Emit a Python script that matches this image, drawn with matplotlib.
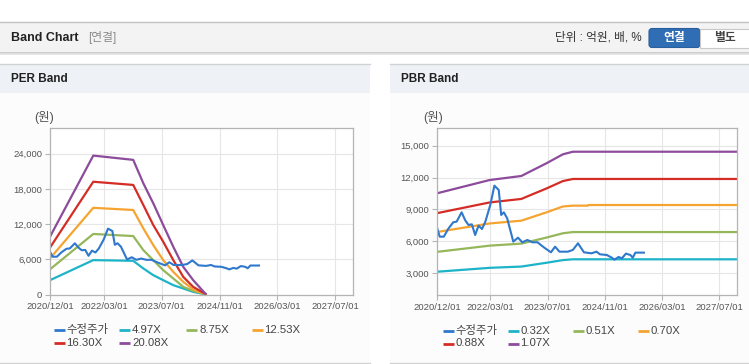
import matplotlib
matplotlib.use("Agg")
import matplotlib.dates as mdates
import matplotlib.pyplot as plt
import numpy as np
import pandas as pd
from matplotlib.patches import Rectangle, FancyBboxPatch

plt.rcParams['font.family'] = ['Liberation Sans', 'Noto Sans CJK KR', 'DejaVu Sans']

# adjusted close price (shared by both panels)
price_dates = ["2020-12-01", "2020-12-24", "2021-01-28", "2021-03-06", "2021-04-18",
               "2021-05-17", "2021-06-29", "2021-07-28", "2021-08-26", "2021-09-24",
               "2021-10-22", "2021-11-20", "2021-12-19", "2022-01-17", "2022-02-28",
               "2022-04-04", "2022-05-11", "2022-06-01", "2022-06-23", "2022-07-22",
               "2022-09-12", "2022-10-22", "2022-11-28", "2023-01-10", "2023-02-22",
               "2023-04-06", "2023-06-03", "2023-07-30", "2023-09-03", "2023-10-10",
               "2023-12-21", "2024-02-02", "2024-03-16", "2024-05-06", "2024-07-09",
               "2024-08-21", "2024-09-19", "2024-11-16", "2024-12-29", "2025-01-21",
               "2025-02-25", "2025-03-25", "2025-04-29", "2025-06-05", "2025-06-26",
               "2025-07-18", "2025-09-29"]
price = [7290, 6444, 6444, 7167, 7794, 7856, 8736, 8013, 7543, 7605,
         6600, 7480, 7167, 7856, 9423, 11240, 10830, 8483, 8736, 8170,
         5977, 6350, 5915, 6133, 5915, 5915, 5410, 4974, 5504, 5033,
         5033, 5200, 5820, 4974, 4880, 5033, 4786, 4723, 4472, 4284,
         4535, 4410, 4849, 4723, 4472, 4943, 4943]

# PER band
per_dates = ["2020-12-01", "2021-12-01", "2022-11-03", "2023-01-27", "2023-04-21",
             "2023-07-14", "2023-10-07", "2023-12-30", "2024-03-23", "2024-07-05"]
per_497 = [2440, 5865, 5745, 4446, 3300, 2445, 1590, 1026, 445, 30]
per_875 = [4296, 10325, 9970, 7575, 5865, 4155, 2735, 1300, 615, 50]
per_1253 = [6152, 14785, 14415, 11285, 8430, 5865, 3865, 2155, 855, 70]
per_1630 = [8003, 19234, 18690, 15270, 11850, 9000, 5865, 3010, 1300, 90]
per_2008 = [9860, 23694, 22965, 18980, 15560, 11850, 8140, 4720, 2445, 110]
per_labels = ["수정주가", "4.97X", "8.75X", "12.53X", "16.30X", "20.08X"]

# PBR band
pbr_dates = ["2020-12-01", "2022-02-23", "2022-11-20", "2023-01-30", "2023-06-21",
             "2023-11-09", "2024-02-02", "2024-06-10", "2024-06-15", "2027-12-01"]
pbr_032 = [3146, 3514, 3634, 3753, 3989, 4244, 4316, 4316, 4316, 4316]
pbr_051 = [5014, 5600, 5791, 5982, 6358, 6764, 6878, 6878, 6878, 6878]
pbr_070 = [6882, 7687, 7949, 8210, 8727, 9283, 9360, 9360, 9420, 9420]
pbr_088 = [8652, 9663, 9992, 10322, 10971, 11671, 11868, 11868, 11868, 11868]
pbr_107 = [10520, 11770, 12150, 12550, 13340, 14190, 14430, 14430, 14430, 14430]
pbr_labels = ["수정주가", "0.32X", "0.51X", "0.70X", "0.88X", "1.07X"]

x_ticks = ["2020-12-01", "2022-03-01", "2023-07-01", "2024-11-01", "2026-03-01", "2027-07-01"]

COLORS = ['#2f78cc', '#1db4c8', '#95b75a', '#f5a431', '#d42d26', '#8c4b9b']
W, H = 749, 364


def px_rect(left, top, width, height):
  return [left / W, 1 - (top + height) / H, width / W, height / H]


def setup_axes(ax, ylim, yticks):
  ax.set_facecolor('white')
  ax.set_xlim(pd.Timestamp("2020-12-01"), pd.Timestamp("2027-12-01"))
  ax.set_ylim(*ylim)
  ax.set_xticks(pd.to_datetime(x_ticks))
  ax.xaxis.set_major_formatter(mdates.DateFormatter('%Y/%m/%d'))
  ax.set_yticks(yticks)
  ax.set_yticklabels([f'{v:,}' for v in yticks])
  ax.grid(color='#e6e6e6', linewidth=0.8)
  ax.set_axisbelow(True)
  for sp in ax.spines.values():
    sp.set_color('#b4b4b4')
    sp.set_linewidth(0.9)
  ax.tick_params(axis='both', colors='#b4b4b4', labelcolor='#555555',
                 labelsize=6.8, length=3.5, width=0.8, pad=2)


def draw_legend(bg, labels, xs, ys):
  pos = [(xs[0], ys[0]), (xs[1], ys[0]), (xs[2], ys[0]), (xs[3], ys[0]),
         (xs[0], ys[1]), (xs[1], ys[1])]
  for (lx, ly), lab, col in zip(pos, labels, COLORS):
    bg.plot([lx, lx + 11], [ly, ly], color=col, lw=2, solid_capstyle='butt')
    bg.text(lx + 13, ly, lab, fontsize=8.2, color='#444444', va='center', ha='left')


fig = plt.figure(figsize=(W / 100, H / 100), dpi=100)
bg = fig.add_axes([0, 0, 1, 1])
bg.set_xlim(0, W)
bg.set_ylim(H, 0)
bg.axis('off')

# header bar
bg.add_patch(Rectangle((0, 22), W, 30.5, fc='#f3f3f3', ec='none'))
bg.plot([0, W], [22, 22], color='#c2c2c2', lw=1)
bg.plot([0, W], [52.8, 52.8], color='#c6c6c6', lw=1.2)
bg.plot([0, W], [54.2, 54.2], color='#e2e2e2', lw=1.2)
bg.text(11, 38, 'Band Chart', fontsize=9, fontweight='bold', color='#222222', va='center')
bg.text(88, 38, '[연결]', fontsize=8.5, color='#8a8a8a', va='center')
bg.text(642, 38, '단위 : 억원, 배, %', fontsize=8.4, color='#333333', va='center', ha='right')
bg.add_patch(FancyBboxPatch((649, 28.5), 51, 19, boxstyle='round,pad=0,rounding_size=3',
                            fc='#2f6db5', ec='#2a5f9e', lw=0.8))
bg.add_patch(Rectangle((700, 28.5), 50, 19, fc='white', ec='#c8c8c8', lw=0.8))
bg.text(674.5, 38.5, '연결', fontsize=8.5, fontweight='bold', color='white', va='center', ha='center')
bg.text(724.5, 38.5, '별도', fontsize=8.5, fontweight='bold', color='#444444', va='center', ha='center')

# panels
for x0, w, title in [(0, 370, 'PER Band'), (390, 359, 'PBR Band')]:
  bg.add_patch(Rectangle((x0, 64), w, 299, fc='#fcfcfc', ec='none'))
  bg.add_patch(Rectangle((x0, 64), w, 28.5, fc='#eef2f7', ec='none'))
  bg.plot([x0, x0 + w], [64, 64], color='#d2d2d2', lw=1)
  bg.plot([x0, x0 + w], [362.5, 362.5], color='#d2d2d2', lw=1)
  bg.text(x0 + 11, 79.5, title, fontsize=8.5, fontweight='bold', color='#222222', va='center')

bg.text(44, 117.5, '(원)', fontsize=9, color='#555555', va='center', ha='center')
bg.text(433, 117.5, '(원)', fontsize=9, color='#555555', va='center', ha='center')

# PER axes
ax1 = fig.add_axes(px_rect(50, 128, 303, 166.5))
pd_per = pd.to_datetime(per_dates)
for vals, col in zip([per_497, per_875, per_1253, per_1630, per_2008], COLORS[1:]):
  ax1.plot(pd_per, vals, color=col, lw=1.6)
ax1.plot(pd.to_datetime(price_dates), price, color=COLORS[0], lw=1.5)
setup_axes(ax1, (0, 28400), [0, 6000, 12000, 18000, 24000])

# PBR axes
ax2 = fig.add_axes(px_rect(437, 128, 300, 167))
pd_pbr = pd.to_datetime(pbr_dates)
for vals, col in zip([pbr_032, pbr_051, pbr_070, pbr_088, pbr_107], COLORS[1:]):
  ax2.plot(pd_pbr, vals, color=col, lw=1.6)
ax2.plot(pd.to_datetime(price_dates), price, color=COLORS[0], lw=1.5)
setup_axes(ax2, (960, 16660), [3000, 6000, 9000, 12000, 15000])

draw_legend(bg, per_labels, [53.5, 119, 186, 251.5], [330, 343])
draw_legend(bg, pbr_labels, [442.5, 507.5, 572.5, 637.5], [330.5, 343.5])

fig.savefig('out.png', dpi=100)
